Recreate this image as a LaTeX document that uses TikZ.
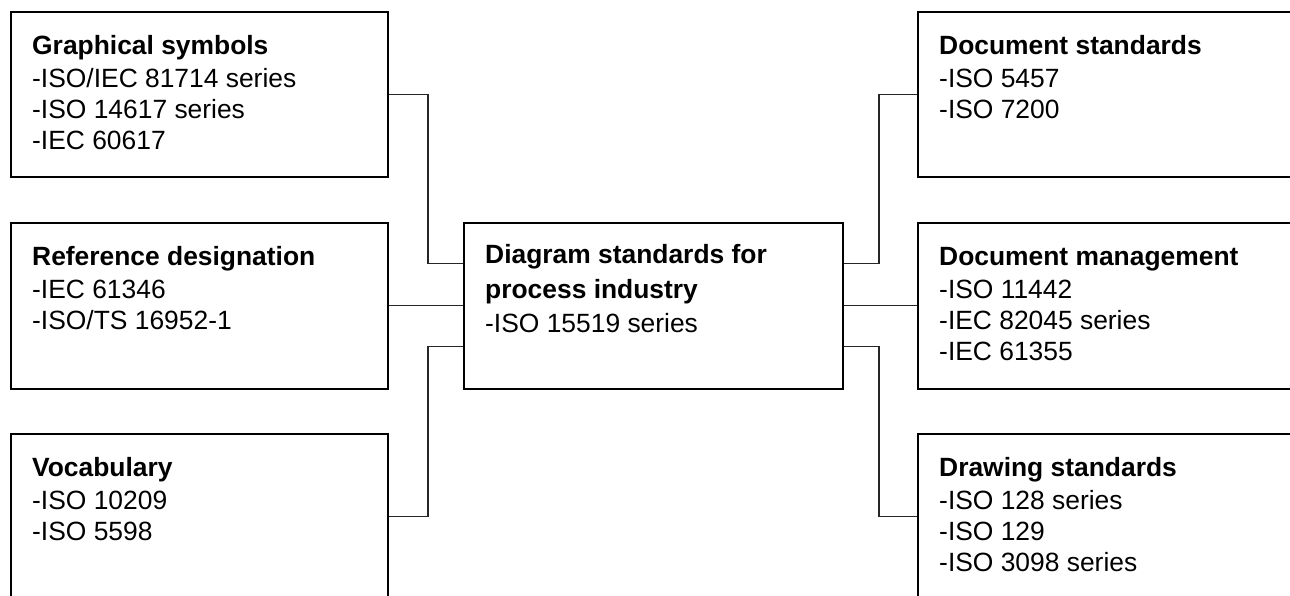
\documentclass[tikz,border=0pt]{standalone}
\usepackage{fontspec}
\setmainfont{Liberation Sans}
\begin{document}
\begin{tikzpicture}[x=1pt,y=-1pt,
  box/.style={draw, line width=2pt, minimum width=377pt, minimum height=165.5pt, inner sep=0pt, anchor=north west},
  txt/.style={anchor=north west, inner sep=0pt, align=left, xshift=22pt, yshift=-21pt, font=\fontsize{26.4}{31}\selectfont},
  link/.style={line width=1.2pt, black!85}]
\useasboundingbox (0,0) rectangle (1290,596);
\clip (0,0) rectangle (1290,596);
% boxes
\node[box] (gs) at (10,11) {};
\node[box] (rd) at (10,222) {};
\node[box] (vo) at (10,433) {};
\node[box, minimum width=379pt] (ctr) at (463,222) {};
\node[box] (ds) at (917,11) {};
\node[box] (dm) at (917,222) {};
\node[box] (dr) at (917,433) {};
% texts
\node[txt] (gs-t) at (gs.north west) {\rule{0pt}{22pt}\textbf{Graphical symbols}\\[2pt]-ISO/IEC 81714 series\\-ISO 14617 series\\-IEC 60617};
\node[txt] (rd-t) at (rd.north west) {\rule{0pt}{22pt}\textbf{Reference designation}\\[2pt]-IEC 61346\\-ISO/TS 16952-1};
\node[txt] (vo-t) at (vo.north west) {\rule{0pt}{22pt}\textbf{Vocabulary}\\[2pt]-ISO 10209\\-ISO 5598};
\node[txt, yshift=1.5pt] (ctr-t) at (ctr.north west) {\rule{0pt}{22pt}\textbf{Diagram standards for}\\[4pt]\textbf{process industry}\\[3pt]-ISO 15519 series};
\node[txt] (ds-t) at (ds.north west) {\rule{0pt}{22pt}\textbf{Document standards}\\[2pt]-ISO 5457\\-ISO 7200};
\node[txt] (dm-t) at (dm.north west) {\rule{0pt}{22pt}\textbf{Document management}\\[2pt]-ISO 11442\\-IEC 82045 series\\-IEC 61355};
\node[txt] (dr-t) at (dr.north west) {\rule{0pt}{22pt}\textbf{Drawing standards}\\[2pt]-ISO 128 series\\-ISO 129\\-ISO 3098 series};
% connectors
\draw[link] (gs.east) -- ++(39,0) |- ([yshift=42pt]ctr.west);
\draw[link] (rd.east) -- (ctr.west);
\draw[link] (vo.east) -- ++(39,0) |- ([yshift=-41pt]ctr.west);
\draw[link] (ds.west) -- ++(-38,0) |- ([yshift=42pt]ctr.east);
\draw[link] (dm.west) -- (ctr.east);
\draw[link] (dr.west) -- ++(-38,0) |- ([yshift=-41pt]ctr.east);
\end{tikzpicture}
\end{document}
